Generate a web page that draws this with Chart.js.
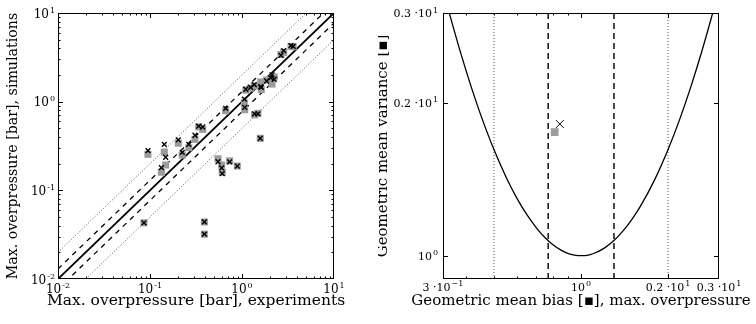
<!DOCTYPE html>
<html>
<head>
<meta charset="utf-8">
<script src="https://cdn.jsdelivr.net/npm/chart.js@4.4.1/dist/chart.umd.min.js"></script>
<style>
  html, body { margin: 0; padding: 0; background: #fff; }
  #wrap { position: relative; width: 756px; height: 324px; }
  .panel { position: absolute; top: 0; width: 378px; height: 324px; }
</style>
</head>
<body>
<div id="wrap">
  <div class="panel" style="left:0"><canvas id="parity" width="378" height="324"></canvas></div>
  <div class="panel" style="left:378px"><canvas id="mgvg" width="378" height="324"></canvas></div>
</div>
<script>
// Max. overpressure, experiments vs. simulations (bar)
const experiments = [0.086, 0.39, 0.39, 0.095, 0.143, 0.148, 0.133, 0.203, 0.224, 0.264,
  0.308, 0.338, 0.374, 0.665, 1.06, 1.07, 1.10, 1.24, 1.37, 1.49,
  1.58, 1.36, 1.60, 1.62, 1.85, 2.05, 2.12, 2.24, 2.65, 2.84,
  3.41, 3.60, 0.548, 0.601, 0.61, 0.734, 0.889];
const simCross = [0.043, 0.044, 0.032, 0.28, 0.33, 0.236, 0.18, 0.37, 0.268, 0.33,
  0.418, 0.53, 0.518, 0.84, 1.07, 0.86, 1.38, 1.45, 0.73, 0.73,
  0.386, 1.56, 1.48, 1.45, 1.71, 1.86, 2.01, 1.79, 3.33, 3.76,
  4.28, 4.20, 0.21, 0.179, 0.154, 0.209, 0.188];
const simSquare = [0.043, 0.044, 0.032, 0.255, 0.27, 0.193, 0.16, 0.34, 0.25, 0.303,
  0.376, 0.52, 0.487, 0.79, 0.97, 0.81, 1.35, 1.42, 0.71, 0.74,
  0.386, 1.50, 1.67, 1.37, 1.75, 1.82, 1.58, 1.90, 3.40, 3.60,
  4.20, 4.17, 0.227, 0.193, 0.16, 0.215, 0.188];

// parity line and factor-of-1.3 / factor-of-2 bands
const diagX = [0.01, 10];
const diagY = [0.01, 10];
const bandHi13 = [0.013, 13];
const bandLo13 = [0.0077, 7.7];
const bandHi2 = [0.02, 20];
const bandLo2 = [0.005, 5];

// geometric mean bias / variance
const biasCurve = [0.35, 0.36, 0.38, 0.40, 0.42, 0.45, 0.50, 0.55, 0.60, 0.65, 0.70, 0.75, 0.80, 0.85,
  0.90, 0.95, 1.00, 1.05, 1.10, 1.20, 1.30, 1.40, 1.50, 1.60, 1.80, 2.00, 2.20, 2.40, 2.60, 2.80, 2.86];
const varianceCurve = [3.010, 2.840, 2.550, 2.316, 2.123, 1.892, 1.617, 1.430, 1.298, 1.204, 1.136, 1.086, 1.051, 1.027,
  1.011, 1.003, 1.000, 1.002, 1.009, 1.034, 1.071, 1.120, 1.179, 1.247, 1.413, 1.617, 1.862, 2.152, 2.492, 2.887, 3.017];
const mgSquare = [0.811];
const vgSquare = [1.75];
const mgCross = [0.845];
const vgCross = [1.815];
const biasLimits13 = [0.77, 1.3];
const biasLimits2 = [0.5, 2.0];
const vgSpan = [0.9, 3.0];

const FONT = '"DejaVu Serif", "Liberation Serif", serif';

function xy(xs, ys) { return xs.map((x, i) => ({ x: x, y: ys[i] })); }

// label like 10^-1 or 0.2·10^1, drawn with a raised exponent
function drawSci(ctx, base, exp, x, y, align, size) {
  const es = Math.round(size * 0.7);
  ctx.font = size + 'px ' + FONT;
  const bw = ctx.measureText(base).width;
  ctx.font = es + 'px ' + FONT;
  const ew = ctx.measureText(exp).width;
  const total = bw + 1 + ew;
  const x0 = align === 'right' ? x - total : align === 'center' ? x - total / 2 : x;
  ctx.textAlign = 'left'; ctx.textBaseline = 'alphabetic';
  ctx.font = size + 'px ' + FONT;
  ctx.fillText(base, x0, y);
  ctx.font = es + 'px ' + FONT;
  ctx.fillText(exp, x0 + bw + 1, y - size * 0.42);
}

// frame, inward ticks on all four sides, tick labels, axis titles
function framePlugin(cfg) {
  return {
    id: 'frame',
    afterDraw(chart) {
      const ctx = chart.ctx, a = chart.chartArea;
      const sx = chart.scales.x, sy = chart.scales.y;
      ctx.save();
      ctx.strokeStyle = '#000'; ctx.fillStyle = '#000'; ctx.lineWidth = 1;
      ctx.strokeRect(a.left + 0.5, a.top + 0.5, a.right - a.left - 1, a.bottom - a.top - 1);
      ctx.beginPath();
      const tick = (vals, len) => {
        vals.forEach(v => {
          const px = Math.round(sx.getPixelForValue(v)) + 0.5;
          if (px > a.left && px < a.right) {
            ctx.moveTo(px, a.bottom); ctx.lineTo(px, a.bottom - len);
            ctx.moveTo(px, a.top); ctx.lineTo(px, a.top + len);
          }
        });
      };
      const tickY = (vals, len) => {
        vals.forEach(v => {
          const py = Math.round(sy.getPixelForValue(v)) + 0.5;
          if (py > a.top && py < a.bottom) {
            ctx.moveTo(a.left, py); ctx.lineTo(a.left + len, py);
            ctx.moveTo(a.right, py); ctx.lineTo(a.right - len, py);
          }
        });
      };
      tick(cfg.xMajor, 5); tick(cfg.xMinor, 2.5);
      tickY(cfg.yMajor, 5); tickY(cfg.yMinor, 2.5);
      ctx.stroke();

      cfg.xLabels.forEach(l => drawSci(ctx, l.base, l.exp, sx.getPixelForValue(l.v), a.bottom + cfg.xLabelDy, 'center', cfg.tickSize));
      cfg.yLabels.forEach(l => drawSci(ctx, l.base, l.exp, a.left - cfg.yLabelDx, sy.getPixelForValue(l.v) + cfg.tickSize * 0.38, 'right', cfg.tickSize));

      ctx.textAlign = 'center'; ctx.textBaseline = 'alphabetic';
      ctx.font = cfg.xTitleSize + 'px ' + FONT;
      ctx.fillText(cfg.xTitle, (a.left + a.right) / 2, cfg.xTitleY);
      ctx.font = cfg.yTitleSize + 'px ' + FONT;
      ctx.translate(cfg.yTitleX, (a.top + a.bottom) / 2);
      ctx.rotate(-Math.PI / 2);
      ctx.fillText(cfg.yTitle, 0, 0);
      ctx.restore();
    }
  };
}

function decadeMinors(lo, hi) {
  const out = [];
  for (let d = lo; d < hi; d *= 10) for (let k = 2; k <= 9; k++) out.push(+(k * d).toPrecision(3));
  return out;
}

// bounds 'data' keeps the exact limits instead of snapping them to ticks
const logAxis = (min, max) => ({ type: 'logarithmic', min: min, max: max, bounds: 'data', display: false });

new Chart(document.getElementById('parity'), {
  type: 'scatter',
  data: {
    datasets: [
      { data: xy(experiments, simCross), pointStyle: 'crossRot', pointRadius: 3.4, borderColor: '#000', borderWidth: 1.4, order: 0 },
      { data: xy(experiments, simSquare), pointStyle: 'rect', pointRadius: 5, backgroundColor: '#9c9c9c', borderWidth: 0, order: 1 },
      { type: 'line', data: xy(diagX, diagY), borderColor: '#000', borderWidth: 1.8, pointRadius: 0, order: 2 },
      { type: 'line', data: xy(diagX, bandHi13), borderColor: '#000', borderWidth: 1.3, borderDash: [5, 5], pointRadius: 0, order: 2 },
      { type: 'line', data: xy(diagX, bandLo13), borderColor: '#000', borderWidth: 1.3, borderDash: [5, 5], pointRadius: 0, order: 2 },
      { type: 'line', data: xy(diagX, bandHi2), borderColor: '#444', borderWidth: 0.9, borderDash: [1, 2], pointRadius: 0, order: 2 },
      { type: 'line', data: xy(diagX, bandLo2), borderColor: '#444', borderWidth: 0.9, borderDash: [1, 2], pointRadius: 0, order: 2 }
    ]
  },
  options: {
    responsive: false, animation: false, events: [],
    layout: { padding: { left: 58, right: 44, top: 13, bottom: 45 } },
    plugins: { legend: { display: false }, tooltip: { enabled: false } },
    scales: { x: logAxis(0.01, 10), y: logAxis(0.01, 10) }
  },
  plugins: [framePlugin({
    xMajor: [0.01, 0.1, 1, 10], xMinor: decadeMinors(0.01, 10),
    yMajor: [0.01, 0.1, 1, 10], yMinor: decadeMinors(0.01, 10),
    xLabels: [{ v: 0.01, base: '10', exp: '-2' }, { v: 0.1, base: '10', exp: '-1' }, { v: 1, base: '10', exp: '0' }, { v: 10, base: '10', exp: '1' }],
    yLabels: [{ v: 0.01, base: '10', exp: '-2' }, { v: 0.1, base: '10', exp: '-1' }, { v: 1, base: '10', exp: '0' }, { v: 10, base: '10', exp: '1' }],
    tickSize: 12, xLabelDy: 14, yLabelDx: 3,
    xTitleSize: 15.5, yTitleSize: 14.2,
    xTitle: 'Max. overpressure [bar], experiments', xTitleY: 305,
    yTitle: 'Max. overpressure [bar], simulations', yTitleX: 17
  })]
});

new Chart(document.getElementById('mgvg'), {
  type: 'scatter',
  data: {
    datasets: [
      { data: xy(mgCross, vgCross), pointStyle: 'crossRot', pointRadius: 5.5, borderColor: '#000', borderWidth: 1, order: 0 },
      { data: xy(mgSquare, vgSquare), pointStyle: 'rect', pointRadius: 5.5, backgroundColor: '#9c9c9c', borderWidth: 0, order: 1 },
      { type: 'line', data: xy(biasCurve, varianceCurve), borderColor: '#000', borderWidth: 1.3, pointRadius: 0, cubicInterpolationMode: 'monotone', order: 2 },
      { type: 'line', data: xy([biasLimits13[0], biasLimits13[0]], vgSpan), borderColor: '#000', borderWidth: 1.4, borderDash: [6, 4], pointRadius: 0, order: 2 },
      { type: 'line', data: xy([biasLimits13[1], biasLimits13[1]], vgSpan), borderColor: '#000', borderWidth: 1.4, borderDash: [6, 4], pointRadius: 0, order: 2 },
      { type: 'line', data: xy([biasLimits2[0], biasLimits2[0]], vgSpan), borderColor: '#444', borderWidth: 0.9, borderDash: [1, 2], pointRadius: 0, order: 2 },
      { type: 'line', data: xy([biasLimits2[1], biasLimits2[1]], vgSpan), borderColor: '#444', borderWidth: 0.9, borderDash: [1, 2], pointRadius: 0, order: 2 }
    ]
  },
  options: {
    responsive: false, animation: false, events: [],
    layout: { padding: { left: 65, right: 37, top: 13, bottom: 45 } },
    plugins: { legend: { display: false }, tooltip: { enabled: false } },
    scales: { x: logAxis(1 / 3, 3), y: logAxis(0.9, 3) }
  },
  plugins: [framePlugin({
    xMajor: [1, 2], xMinor: [0.4, 0.5, 0.6, 0.7, 0.8, 0.9],
    yMajor: [1, 2], yMinor: [],
    xLabels: [{ v: 1 / 3, base: '3 \u00b710', exp: '\u22121' }, { v: 1, base: '10', exp: '0' }, { v: 2, base: '0.2 \u00b710', exp: '1' }, { v: 3, base: '0.3 \u00b710', exp: '1' }],
    yLabels: [{ v: 1, base: '10', exp: '0' }, { v: 2, base: '0.2 \u00b710', exp: '1' }, { v: 3, base: '0.3 \u00b710', exp: '1' }],
    tickSize: 11, xLabelDy: 12, yLabelDx: 5,
    xTitleSize: 15, yTitleSize: 15,
    xTitle: 'Geometric mean bias [\u25aa], max. overpressure', xTitleY: 305,
    yTitle: 'Geometric mean variance [\u25aa]', yTitleX: 9
  })]
});
</script>
</body>
</html>
